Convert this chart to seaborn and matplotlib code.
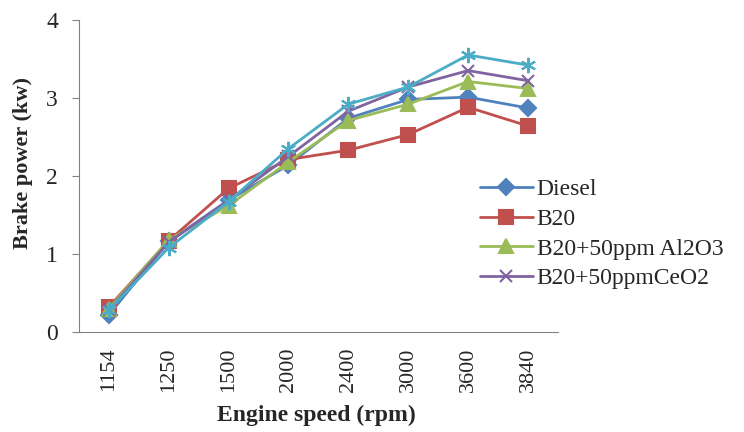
import pandas as pd
import numpy as np
import matplotlib.pyplot as plt
import seaborn as sns

# 数据
speeds = ['1154', '1250', '1500', '2000', '2400', '3000', '3600', '3840']
diesel = [0.22, 1.16, 1.69, 2.14, 2.74, 2.98, 3.01, 2.87]
b20 = [0.32, 1.17, 1.84, 2.21, 2.33, 2.53, 2.88, 2.64]
b20_al2o3 = [0.30, 1.18, 1.62, 2.18, 2.71, 2.92, 3.21, 3.12]
b20_ceo2 = [0.28, 1.15, 1.69, 2.25, 2.83, 3.14, 3.35, 3.22]
b20_fifth = [0.28, 1.08, 1.67, 2.35, 2.92, 3.14, 3.55, 3.42]

series = [
    ('Diesel', diesel, '#4F81BD', 'D', 8),
    ('B20', b20, '#C0504D', 's', 10.5),
    ('B20+50ppm Al2O3', b20_al2o3, '#9BBB59', '^', 10.5),
    ('B20+50ppmCeO2', b20_ceo2, '#8064A2', 'x', 9),
    ('B20 blend 5', b20_fifth, '#4BACC6', (6, 2, 0), 11),
]

sns.set_style('white')
plt.rcParams['font.family'] = ['Liberation Serif', 'DejaVu Serif']

fig = plt.figure(figsize=(7.44, 4.32), dpi=100)
ax = fig.add_axes([0.106, 0.2315, 0.644, 0.7225])

for name, vals, color, marker, ms in series:
    df = pd.DataFrame({'speed': speeds, 'power': vals})
    sns.lineplot(data=df, x='speed', y='power', ax=ax, color=color,
                 marker=marker, markersize=ms, markeredgecolor=color,
                 markeredgewidth=1.5, linewidth=2, label=name, sort=False)

ax.set_ylim(0, 4)
ax.set_xlim(-0.5, len(speeds) - 0.5)
ax.set_yticks([0, 1, 2, 3, 4])
ax.tick_params(axis='y', labelsize=17, length=5, color='#808080', left=True, pad=10)
ax.tick_params(axis='x', labelsize=16, rotation=90, length=0, pad=11)
ax.set_xlabel('Engine speed (rpm)', fontsize=17, fontweight='bold')
ax.set_ylabel('Brake power (kw)', fontsize=16, fontweight='bold')
ax.xaxis.set_label_coords(0.495, -0.234)
ax.yaxis.set_label_coords(-0.095, 0.54)

for side in ['top', 'right']:
    ax.spines[side].set_visible(False)
for side in ['left', 'bottom']:
    ax.spines[side].set_color('#808080')

handles, labels = ax.get_legend_handles_labels()
ax.legend(handles[:4], labels[:4], loc='center left', bbox_to_anchor=(0.837, 0.314),
          frameon=False, fontsize=17, handlelength=2.25, handletextpad=0.15,
          labelspacing=0.35, borderaxespad=0, borderpad=0)

fig.savefig('out.png', dpi=100)
